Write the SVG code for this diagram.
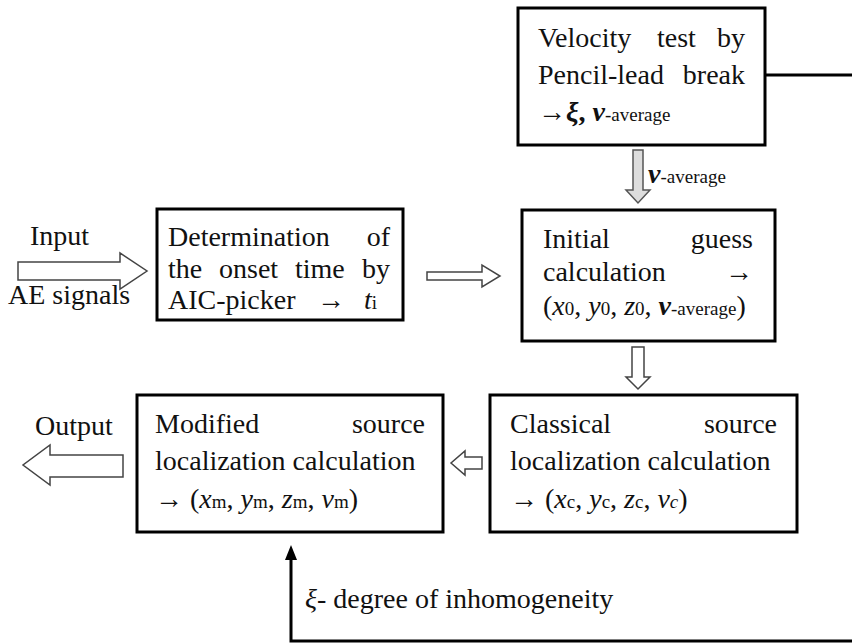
<svg xmlns="http://www.w3.org/2000/svg" width="852" height="643" viewBox="0 0 852 643">
<style>
.box{fill:#fff;stroke:#000;stroke-width:3}
.t{font-family:"Liberation Serif","Times New Roman",serif;font-size:28px;fill:#111}
.s{font-size:19px}
.bi{font-weight:bold;font-style:italic}
.i{font-style:italic}
.ha{fill:#fff;stroke:#444;stroke-width:1.5;stroke-linejoin:miter}
.ga{fill:#ddd;stroke:#555;stroke-width:1.5}
.ln{fill:none;stroke:#000;stroke-width:3}
</style>
<rect width="852" height="643" fill="#fff"/>

<g id="velocity">
<rect class="box" x="518" y="8" width="247" height="137"/>
<text class="t" x="538" y="47">Velocity</text>
<text class="t" x="657" y="47">test</text>
<text class="t" x="745" y="47" text-anchor="end">by</text>
<text class="t" x="538" y="84">Pencil-lead</text>
<text class="t" x="745" y="84" text-anchor="end">break</text>
<text class="t" x="538" y="121">→<tspan class="bi">ξ</tspan><tspan font-weight="bold">, </tspan><tspan class="bi">v</tspan><tspan class="s">-average</tspan></text>
</g>

<g id="input">
<text class="t" x="30" y="245">Input</text>
<text class="t" x="8" y="304">AE signals</text>
</g>

<g id="onset">
<rect class="box" x="157" y="209" width="246" height="111"/>
<text class="t" x="168" y="246">Determination</text>
<text class="t" x="390" y="246" text-anchor="end">of</text>
<text class="t" x="168" y="278">the</text>
<text class="t" x="219" y="278">onset</text>
<text class="t" x="295" y="278">time</text>
<text class="t" x="390" y="278" text-anchor="end">by</text>
<text class="t" x="168" y="309">AIC-picker</text>
<text class="t" x="317" y="309">→</text>
<text class="t" x="364" y="309"><tspan class="i">t</tspan><tspan class="s">i</tspan></text>
</g>

<g id="initial">
<rect class="box" x="522" y="210" width="253" height="131"/>
<text class="t" x="543" y="248">Initial</text>
<text class="t" x="753" y="248" text-anchor="end">guess</text>
<text class="t" x="543" y="281">calculation</text>
<text class="t" x="753" y="281" text-anchor="end">→</text>
<text class="t" x="543" y="315">(<tspan class="i">x</tspan><tspan class="s">0</tspan>, <tspan class="i">y</tspan><tspan class="s">0</tspan>, <tspan class="i">z</tspan><tspan class="s">0</tspan>, <tspan class="bi">v</tspan><tspan class="s">-average</tspan>)</text>
</g>

<g id="classical">
<rect class="box" x="490" y="395" width="307" height="137"/>
<text class="t" x="510" y="433">Classical</text>
<text class="t" x="777" y="433" text-anchor="end">source</text>
<text class="t" x="510" y="470">localization calculation</text>
<text class="t" x="510" y="508">→  (<tspan class="i">x</tspan><tspan class="s">c</tspan>, <tspan class="i">y</tspan><tspan class="s">c</tspan>, <tspan class="i">z</tspan><tspan class="s">c</tspan>, <tspan class="i">v</tspan><tspan class="s i">c</tspan>)</text>
</g>

<g id="modified">
<rect class="box" x="137" y="395" width="306" height="137"/>
<text class="t" x="155" y="433">Modified</text>
<text class="t" x="425" y="433" text-anchor="end">source</text>
<text class="t" x="155" y="470">localization calculation</text>
<text class="t" x="155" y="508">→  (<tspan class="i">x</tspan><tspan class="s">m</tspan>, <tspan class="i">y</tspan><tspan class="s">m</tspan>, <tspan class="i">z</tspan><tspan class="s">m</tspan>, <tspan class="i">v</tspan><tspan class="s">m</tspan>)</text>
</g>

<g id="output">
<text class="t" x="35" y="435">Output</text>
</g>

<g id="connectors">
<polygon class="ha" points="18,262 120,262 120,253 147,271 120,289 120,280 18,280"/>
<polygon class="ha" points="427,272 482,272 482,265 500,276 482,287 482,280 427,280"/>
<polygon class="ga" points="633,150 643,150 643,190 650,190 638,203 626,190 633,190"/>
<text class="t" x="648" y="183"><tspan class="bi">v</tspan><tspan class="s">-average</tspan></text>
<polygon class="ha" points="632,347 644,347 644,377 650,377 638,389 626,377 632,377"/>
<polygon class="ha" points="482,457 465,457 465,451 451,463 465,475 465,469 482,469"/>
<polygon class="ha" points="123,455 50,455 50,445 23,465 50,485 50,477 123,477"/>
<polyline class="ln" points="765,75 852,75"/>
<polyline class="ln" points="852,641 291,641 291,558"/>
<polygon points="291,545 285,560 297,560" fill="#000"/>
<text class="t" x="305" y="608"><tspan class="i">ξ</tspan>- degree of inhomogeneity</text>
</g>
</svg>
